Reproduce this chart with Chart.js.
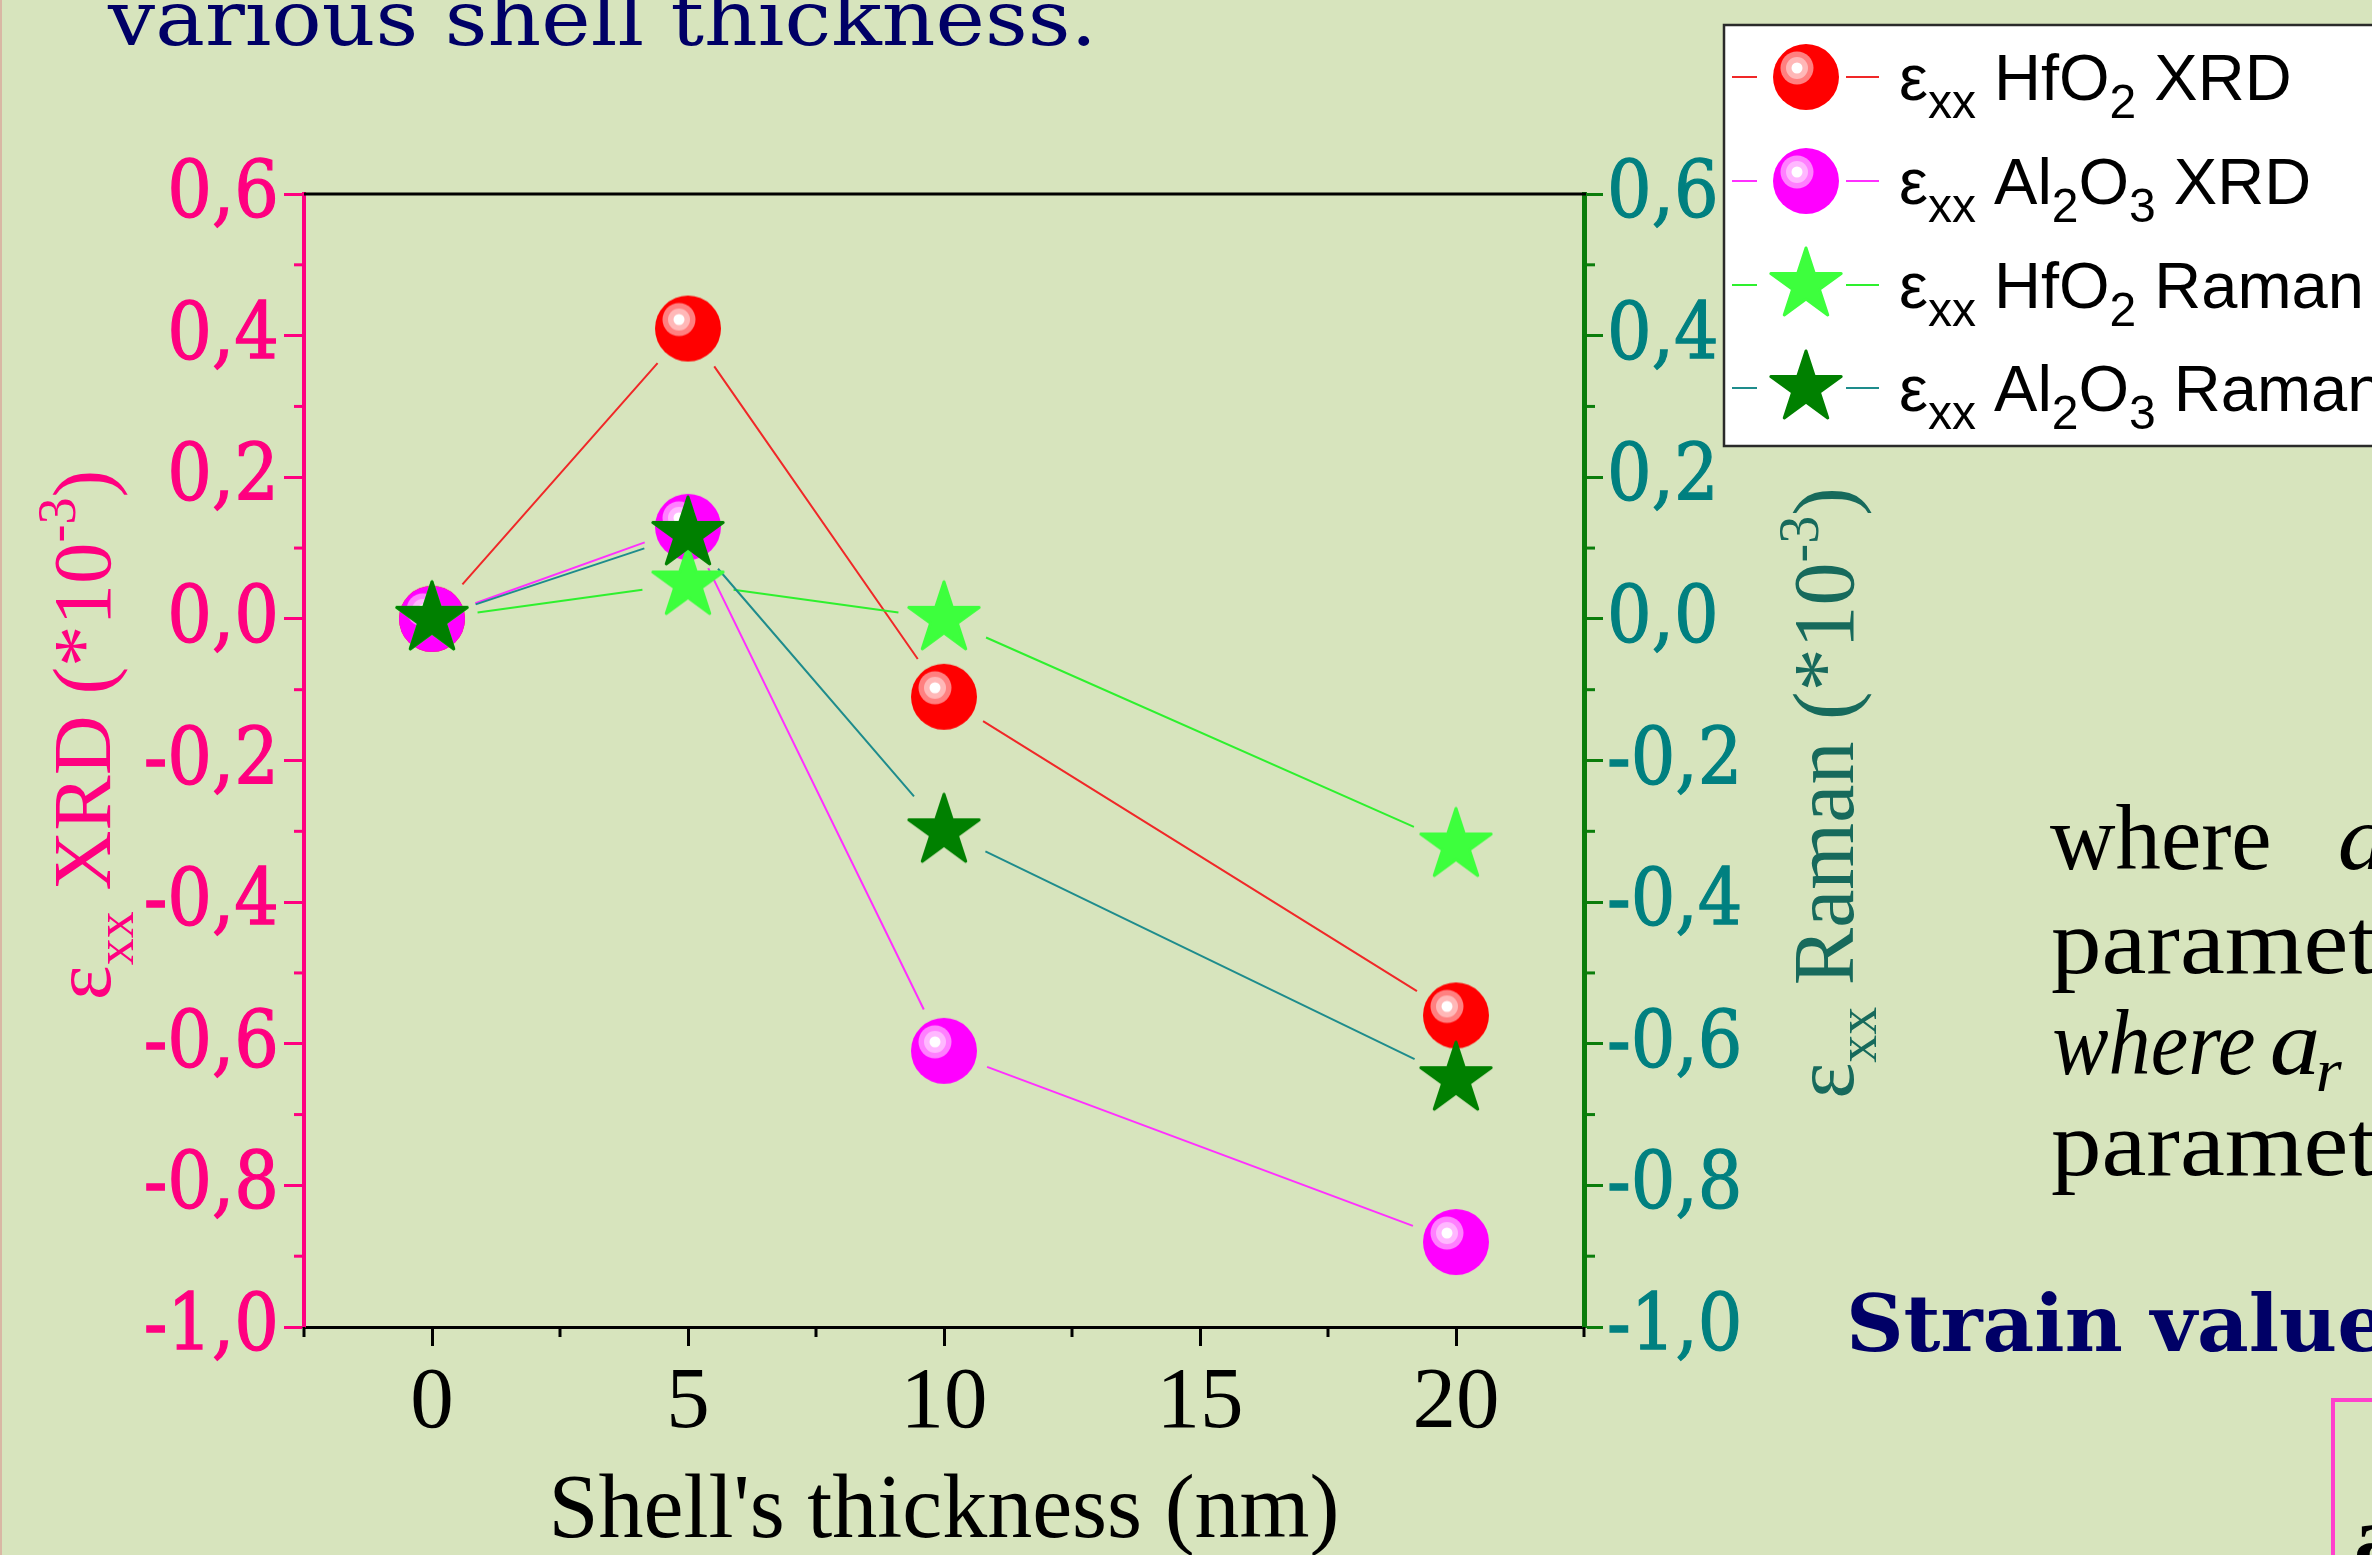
<!DOCTYPE html>
<html>
<head>
<meta charset="utf-8">
<script src="https://cdn.jsdelivr.net/npm/chart.js@4.4.0/dist/chart.umd.min.js"></script>
<style>
  html, body { margin: 0; padding: 0; background: #d7e4bd; overflow: hidden; }
  canvas { display: block; }
</style>
</head>
<body>
<canvas id="c" width="2372" height="1555"></canvas>
<script>
// Shell thickness (nm) and in-plane strain values (x10^-3)
const thickness  = [0, 5, 10, 20];
const hfo2Xrd    = [0, 0.41, -0.11, -0.56];
const al2o3Xrd   = [0, 0.13, -0.61, -0.88];
const hfo2Raman  = [0, 0.05, 0.00, -0.32];
const al2o3Raman = [0, 0.12, -0.30, -0.65];

// Axis ticks
const xTicks      = [0, 5, 10, 15, 20];
const xTickLabels = ['0', '5', '10', '15', '20'];
const xMinorTicks = [-2.5, 2.5, 7.5, 12.5, 17.5, 22.5];
const yTicks      = [-1.0, -0.8, -0.6, -0.4, -0.2, 0, 0.2, 0.4, 0.6];
const yTickLabels = ['-1,0', '-0,8', '-0,6', '-0,4', '-0,2', '0,0', '0,2', '0,4', '0,6'];
const yMinorTicks = [-0.9, -0.7, -0.5, -0.3, -0.1, 0.1, 0.3, 0.5];

// Legend labels as [text, role] runs (role: n = normal, sub = subscript)
const legendLabels = [
  [['ε', 'n'], ['xx', 'sub'], [' HfO', 'n'], ['2', 'sub'], [' XRD', 'n']],
  [['ε', 'n'], ['xx', 'sub'], [' Al', 'n'], ['2', 'sub'], ['O', 'n'], ['3', 'sub'], [' XRD', 'n']],
  [['ε', 'n'], ['xx', 'sub'], [' HfO', 'n'], ['2', 'sub'], [' Raman', 'n']],
  [['ε', 'n'], ['xx', 'sub'], [' Al', 'n'], ['2', 'sub'], ['O', 'n'], ['3', 'sub'], [' Raman', 'n']]
];
const xTitle = "Shell's thickness (nm)";
const yLeftTitle  = [['ε', 'n'], ['xx', 'sub'], [' XRD (*10', 'n'], ['-3', 'sup'], [')', 'n']];
const yRightTitle = [['ε', 'n'], ['xx', 'sub'], [' Raman (*10', 'n'], ['-3', 'sup'], [')', 'n']];

const PINK = '#ff0080', TEAL = '#008080', GREEN = '#0b7d0b', NAVY = '#000066';
const SERIF = '"Liberation Serif", "Times New Roman", serif';

// ---- marker sprites ----
function makeBall(fill, ring1, ring2, r) {
  const c = document.createElement('canvas');
  const s = Math.ceil(2 * r + 4);
  c.width = c.height = s;
  const g = c.getContext('2d');
  const cx = s / 2;
  g.fillStyle = fill;
  g.beginPath(); g.arc(cx, cx, r, 0, Math.PI * 2); g.fill();
  const hx = cx - 9, hy = cx - 9;
  g.fillStyle = ring1; g.beginPath(); g.arc(hx, hy, 16.5, 0, Math.PI * 2); g.fill();
  g.fillStyle = ring2; g.beginPath(); g.arc(hx, hy, 11, 0, Math.PI * 2); g.fill();
  g.fillStyle = '#ffffff'; g.beginPath(); g.arc(hx, hy, 5.5, 0, Math.PI * 2); g.fill();
  return c;
}
function makeStar(fill, R) {
  const c = document.createElement('canvas');
  const s = Math.ceil(2 * R + 8);
  c.width = c.height = s;
  const g = c.getContext('2d');
  const cx = s / 2;
  g.beginPath();
  for (let i = 0; i < 10; i++) {
    const a = -Math.PI / 2 + i * Math.PI / 5;
    const rr = i % 2 ? R * 0.382 : R;
    const px = cx + rr * Math.cos(a), py = cx + rr * Math.sin(a);
    i ? g.lineTo(px, py) : g.moveTo(px, py);
  }
  g.closePath();
  g.fillStyle = fill; g.strokeStyle = fill;
  g.lineWidth = 3; g.lineJoin = 'round';
  g.fill(); g.stroke();
  return c;
}
const redBall     = makeBall('#ff0000', '#ff8080', '#ffb8b8', 33);
const magentaBall = makeBall('#ff00ff', '#ff80ff', '#ffb8ff', 33);
const lightStar   = makeStar('#3dff3d', 37);
const darkStar    = makeStar('#008000', 37);

function pts(ys) { return thickness.map((x, i) => ({ x: x, y: ys[i] })); }

// ---- text helpers ----
function runFont(role, main, small) { return role === 'n' ? main : small; }
function runsWidth(ctx, runs, main, small) {
  let w = 0;
  runs.forEach(([t, role]) => { ctx.font = runFont(role, main, small); w += ctx.measureText(t).width; });
  return w;
}
function drawRuns(ctx, runs, x, y, main, small, subDy, supDy) {
  runs.forEach(([t, role]) => {
    ctx.font = runFont(role, main, small);
    const dy = role === 'sub' ? subDy : role === 'sup' ? supDy : 0;
    ctx.fillText(t, x, y + dy);
    x += ctx.measureText(t).width;
  });
  return x;
}
// draws text so its ink starts at `left`, stretched horizontally by sx
function textAt(ctx, text, font, left, baseline, sx) {
  ctx.save();
  ctx.font = font;
  ctx.textAlign = 'left';
  const m = ctx.measureText(text);
  ctx.translate(left + m.actualBoundingBoxLeft * sx, baseline);
  ctx.scale(sx, 1);
  ctx.fillText(text, 0, 0);
  ctx.restore();
}
function inkScale(ctx, text, font, width) {
  ctx.font = font;
  const m = ctx.measureText(text);
  return width / (m.actualBoundingBoxLeft + m.actualBoundingBoxRight);
}

// ---- page background and surrounding slide text ----
const pagePlugin = {
  id: 'page',
  beforeDraw(chart) {
    const ctx = chart.ctx;
    ctx.save();
    ctx.fillStyle = '#d7e4bd';
    ctx.fillRect(0, 0, chart.width, chart.height);
    ctx.fillStyle = '#d9b7a4';
    ctx.fillRect(0, 0, 2, chart.height);

    ctx.textBaseline = 'alphabetic';
    // heading line
    ctx.fillStyle = NAVY;
    const hFont = '77px "DejaVu Serif", serif';
    const hs = inkScale(ctx, 'various shell thickness.', hFont, 983);
    textAt(ctx, 'various shell thickness.', hFont, 107, 45, hs);

    // body text block
    ctx.fillStyle = '#000000';
    const up = '94px ' + SERIF, it = 'italic 94px ' + SERIF;
    const ws = inkScale(ctx, 'where', up, 219);
    const ps = inkScale(ctx, 'where', up, 244);
    const is = inkScale(ctx, 'where', it, 200);
    textAt(ctx, 'where', up, 2050, 869, ws);
    textAt(ctx, 'a', it, 2340, 869, ps);
    textAt(ctx, 'parameter', up, 2052, 973, ps);
    textAt(ctx, 'where', it, 2054, 1074, is);
    textAt(ctx, 'a', it, 2272, 1074, ps);
    textAt(ctx, 'r', 'italic 62px ' + SERIF, 2318, 1091, ps);
    textAt(ctx, 'parameter', up, 2052, 1175, ps);

    // bold heading
    ctx.fillStyle = NAVY;
    const sFont = 'bold 78px "DejaVu Serif", serif';
    const ss = inkScale(ctx, 'Strain', sFont, 270);
    textAt(ctx, 'Strain values', sFont, 1851, 1351, ss);

    // framed box at the corner
    ctx.strokeStyle = '#ff40cc';
    ctx.lineWidth = 4;
    ctx.strokeRect(2333, 1400, 300, 300);
    ctx.fillStyle = '#000000';
    textAt(ctx, 'a', 'bold 90px ' + SERIF, 2356, 1568, 1);
    ctx.restore();
  }
};

// ---- connecting lines that stop short of the markers ----
const GAP = 46;
const gapLinesPlugin = {
  id: 'gapLines',
  beforeDatasetsDraw(chart) {
    const ctx = chart.ctx;
    ctx.save();
    chart.data.datasets.forEach((ds, i) => {
      const p = chart.getDatasetMeta(i).data;
      ctx.strokeStyle = ds.lineColor;
      ctx.lineWidth = 2;
      ctx.beginPath();
      for (let k = 0; k < p.length - 1; k++) {
        const a = p[k], b = p[k + 1];
        const dx = b.x - a.x, dy = b.y - a.y, L = Math.hypot(dx, dy);
        if (L <= 2 * GAP) continue;
        const ux = dx / L, uy = dy / L;
        ctx.moveTo(a.x + ux * GAP, a.y + uy * GAP);
        ctx.lineTo(b.x - ux * GAP, b.y - uy * GAP);
      }
      ctx.stroke();
    });
    ctx.restore();
  }
};

// ---- frame, minor ticks, tick labels, titles, legend ----
const decorPlugin = {
  id: 'decor',
  afterDraw(chart) {
    const ctx = chart.ctx;
    const a = chart.chartArea;
    const xs = chart.scales.x, yl = chart.scales.y;
    ctx.save();

    // top frame line
    ctx.strokeStyle = '#000'; ctx.lineWidth = 3;
    ctx.beginPath(); ctx.moveTo(a.left, a.top); ctx.lineTo(a.right + 2, a.top); ctx.stroke();

    // minor ticks
    ctx.lineWidth = 3;
    ctx.strokeStyle = '#000';
    xMinorTicks.forEach(v => {
      const px = xs.getPixelForValue(v);
      ctx.beginPath(); ctx.moveTo(px, a.bottom); ctx.lineTo(px, a.bottom + 10); ctx.stroke();
    });
    yMinorTicks.forEach(v => {
      const py = yl.getPixelForValue(v);
      ctx.strokeStyle = PINK;
      ctx.beginPath(); ctx.moveTo(a.left - 10, py); ctx.lineTo(a.left, py); ctx.stroke();
      ctx.strokeStyle = GREEN;
      ctx.beginPath(); ctx.moveTo(a.right, py); ctx.lineTo(a.right + 11, py); ctx.stroke();
    });

    // x tick labels
    ctx.fillStyle = '#000';
    ctx.font = '87px ' + SERIF;
    ctx.textAlign = 'center'; ctx.textBaseline = 'alphabetic';
    xTicks.forEach((v, i) => ctx.fillText(xTickLabels[i], xs.getPixelForValue(v), 1427));

    // y tick labels (slightly emboldened)
    const yFont = '78px "DejaVu Serif", serif';
    function yLabel(text, x, y, color, align) {
      ctx.save();
      ctx.font = yFont; ctx.fillStyle = color; ctx.strokeStyle = color;
      ctx.lineWidth = 1.3; ctx.textAlign = align;
      ctx.translate(x, y); ctx.scale(0.9, 1);
      ctx.fillText(text, 0, 0); ctx.strokeText(text, 0, 0);
      ctx.restore();
    }
    yTicks.forEach((v, i) => {
      const py = yl.getPixelForValue(v) + 23;
      yLabel(yTickLabels[i], a.left - 25, py, PINK, 'right');
      yLabel(yTickLabels[i], a.right + 23, py, TEAL, 'left');
    });

    // x title
    ctx.fillStyle = '#000';
    ctx.font = '90px ' + SERIF;
    ctx.textAlign = 'center';
    ctx.fillText(xTitle, (a.left + a.right) / 2, 1537);

    // rotated y titles
    function vTitle(runs, baseX, cy, color, size) {
      const tMain = size + 'px ' + SERIF, tSmall = Math.round(size * 0.65) + 'px ' + SERIF;
      ctx.save();
      ctx.fillStyle = color; ctx.textAlign = 'left';
      ctx.translate(baseX, cy); ctx.rotate(-Math.PI / 2);
      const w = runsWidth(ctx, runs, tMain, tSmall);
      drawRuns(ctx, runs, -w / 2, 0, tMain, tSmall, 23, -35);
      ctx.restore();
    }
    vTitle(yLeftTitle, 110, 735, PINK, 83);
    vTitle(yRightTitle, 1853, 793, '#176a5c', 86);

    // legend
    ctx.fillStyle = '#ffffff';
    ctx.fillRect(1724, 25, 700, 421);
    ctx.strokeStyle = '#2a2a2a'; ctx.lineWidth = 2.5;
    ctx.strokeRect(1724, 25, 700, 421);
    const rowY = [77, 181, 285, 388];
    const lMain = '65px "Liberation Sans", Arial, sans-serif';
    const lSmall = '48px "Liberation Sans", Arial, sans-serif';
    chart.data.datasets.forEach((ds, i) => {
      const y = rowY[i];
      ctx.strokeStyle = ds.lineColor; ctx.lineWidth = 2;
      ctx.beginPath();
      ctx.moveTo(1732, y); ctx.lineTo(1757, y);
      ctx.moveTo(1846, y); ctx.lineTo(1879, y);
      ctx.stroke();
      const img = ds.pointStyle;
      ctx.drawImage(img, 1806 - img.width / 2, y - img.height / 2);
      ctx.fillStyle = '#000'; ctx.textAlign = 'left';
      drawRuns(ctx, legendLabels[i], 1899, y + 23, lMain, lSmall, 18, -22);
    });

    ctx.restore();
  }
};

function ticksFrom(values) { return s => { s.ticks = values.map(v => ({ value: v })); }; }

new Chart(document.getElementById('c'), {
  type: 'scatter',
  data: {
    datasets: [
      { label: 'HfO2 XRD', data: pts(hfo2Xrd), pointStyle: redBall, pointRadius: 33,
        lineColor: '#f02828', yAxisID: 'y', order: 3 },
      { label: 'Al2O3 XRD', data: pts(al2o3Xrd), pointStyle: magentaBall, pointRadius: 33,
        lineColor: '#ff30ff', yAxisID: 'y', order: 2 },
      { label: 'HfO2 Raman', data: pts(hfo2Raman), pointStyle: lightStar, pointRadius: 37,
        lineColor: '#2ef02e', yAxisID: 'y2', order: 1 },
      { label: 'Al2O3 Raman', data: pts(al2o3Raman), pointStyle: darkStar, pointRadius: 37,
        lineColor: '#1e8c8c', yAxisID: 'y2', order: 0 }
    ]
  },
  options: {
    responsive: false,
    animation: false,
    devicePixelRatio: 1,
    events: [],
    layout: { padding: { top: 194, left: 0, right: 0, bottom: 0 } },
    plugins: { legend: { display: false }, tooltip: { enabled: false } },
    scales: {
      x: {
        type: 'linear', position: 'bottom', min: -2.5, max: 22.5,
        afterBuildTicks: ticksFrom(xTicks),
        afterFit: s => { s.height = 228; },
        ticks: { display: false },
        grid: { drawOnChartArea: false, drawTicks: true, tickLength: 19, tickWidth: 3, tickColor: '#000' },
        border: { display: true, color: '#000', width: 3 }
      },
      y: {
        type: 'linear', position: 'left', min: -1, max: 0.6,
        afterBuildTicks: ticksFrom(yTicks),
        afterFit: s => { s.width = 304; },
        ticks: { display: false },
        grid: { drawOnChartArea: false, drawTicks: true, tickLength: 20, tickWidth: 3, tickColor: PINK },
        border: { display: true, color: PINK, width: 4 }
      },
      y2: {
        type: 'linear', position: 'right', min: -1, max: 0.6,
        afterBuildTicks: ticksFrom(yTicks),
        afterFit: s => { s.width = 788; },
        ticks: { display: false },
        grid: { drawOnChartArea: false, drawTicks: true, tickLength: 19, tickWidth: 3, tickColor: GREEN },
        border: { display: true, color: GREEN, width: 5 }
      }
    }
  },
  plugins: [pagePlugin, gapLinesPlugin, decorPlugin]
});
</script>
</body>
</html>
